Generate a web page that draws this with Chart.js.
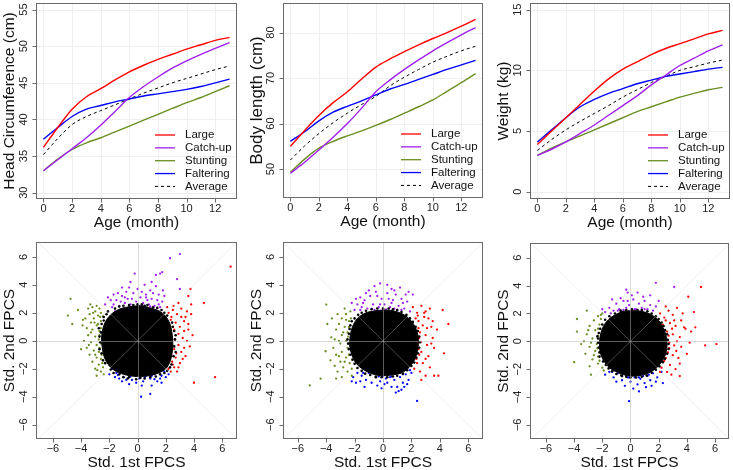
<!DOCTYPE html>
<html>
<head>
<meta charset="utf-8">
<script src="https://cdn.jsdelivr.net/npm/chart.js@4.4.1/dist/chart.umd.min.js"></script>
<style>
  body { margin: 0; background: #fff; }
  #wrap { position: relative; width: 733px; height: 470px; }
  #wrap canvas { position: absolute; left: 0; top: 0; }
</style>
</head>
<body>
<div id="wrap">
  <canvas id="head" width="733" height="470"></canvas>
  <canvas id="length" width="733" height="470"></canvas>
  <canvas id="weight" width="733" height="470"></canvas>
  <canvas id="headPcs" width="733" height="470"></canvas>
  <canvas id="lengthPcs" width="733" height="470"></canvas>
  <canvas id="weightPcs" width="733" height="470"></canvas>
</div>
<script>
// --- growth curves (age in months) ---
const ageMonths = [0, 1, 2, 3, 4, 5, 6, 7, 8, 9, 10, 11, 12, 13];
const groupNames = ['Large', 'Catch-up', 'Stunting', 'Faltering', 'Average'];
const groupColors = ['#FF0000', '#A020F0', '#6B8E23', '#0000FF', '#000000'];

const headLarge     = [36.2, 38.9, 41.4, 43.1, 44.2, 45.4, 46.5, 47.4, 48.2, 48.9, 49.6, 50.2, 50.8, 51.2];
const headCatchup   = [33.0, 34.5, 36.0, 37.5, 39.2, 41.1, 43.0, 44.5, 45.8, 47.0, 48.0, 48.9, 49.7, 50.5];
const headStunting  = [33.0, 34.6, 35.9, 36.8, 37.5, 38.3, 39.1, 39.9, 40.7, 41.5, 42.3, 43.0, 43.8, 44.6];
const headFaltering = [37.3, 38.9, 40.4, 41.4, 41.9, 42.4, 42.8, 43.2, 43.5, 43.8, 44.1, 44.5, 45.0, 45.5];
const headAverage   = [35.2, 37.4, 39.3, 40.4, 41.2, 42.0, 42.8, 43.6, 44.3, 45.0, 45.6, 46.2, 46.8, 47.3];

const lengthLarge     = [55.0, 58.5, 61.8, 64.6, 67.0, 69.8, 72.4, 74.2, 75.8, 77.3, 78.7, 80.0, 81.4, 82.9];
const lengthCatchup   = [49.1, 51.5, 54.2, 57.0, 60.0, 63.4, 67.0, 69.6, 71.9, 74.0, 76.0, 77.8, 79.5, 81.1];
const lengthStunting  = [49.3, 52.2, 54.6, 56.1, 57.3, 58.4, 59.6, 60.9, 62.3, 63.7, 65.2, 67.1, 69.0, 71.0];
const lengthFaltering = [56.1, 58.2, 60.6, 62.5, 63.8, 65.0, 66.3, 67.6, 68.6, 69.7, 70.8, 71.9, 72.9, 73.9];
const lengthAverage   = [52.0, 55.1, 57.8, 60.2, 62.3, 64.2, 66.0, 68.3, 70.2, 71.9, 73.5, 74.8, 76.0, 77.0];

const weightLarge     = [3.9, 5.0, 6.1, 7.2, 8.3, 9.3, 10.1, 10.7, 11.3, 11.8, 12.2, 12.6, 13.0, 13.3];
const weightCatchup   = [3.0, 3.5, 4.1, 4.8, 5.5, 6.3, 7.1, 7.9, 8.8, 9.6, 10.4, 11.0, 11.6, 12.1];
const weightStunting  = [3.0, 3.6, 4.1, 4.6, 5.1, 5.6, 6.1, 6.6, 7.0, 7.4, 7.8, 8.1, 8.4, 8.6];
const weightFaltering = [4.1, 5.1, 6.1, 7.0, 7.6, 8.1, 8.5, 8.9, 9.2, 9.5, 9.7, 9.9, 10.1, 10.25];
const weightAverage   = [3.4, 4.3, 5.1, 5.8, 6.45, 7.1, 7.8, 8.4, 9.0, 9.5, 10.0, 10.3, 10.6, 10.85];

const ageTicks = [0, 2, 4, 6, 8, 10, 12];
const headTicks = [30, 35, 40, 45, 50, 55];
const lengthTicks = [50, 60, 70, 80];
const weightTicks = [0, 5, 10, 15];
const fpcsTicks = [-6, -4, -2, 0, 2, 4, 6];

// --- standardized FPC scores (1st, 2nd) ---
const headBlob = [[-0.5,2.45],[0.2,2.5],[0.9,2.35],[1.5,2.15],[1.95,1.8],[2.3,1.2],[2.45,0.5],[2.5,-0.2],[2.45,-0.9],[2.3,-1.5],[2.0,-2.0],[1.5,-2.3],[0.8,-2.5],[0.0,-2.55],[-0.8,-2.45],[-1.5,-2.2],[-2.0,-1.8],[-2.35,-1.2],[-2.5,-0.5],[-2.55,0.2],[-2.45,0.9],[-2.2,1.5],[-1.8,1.95],[-1.2,2.3]];
const headEdge = [[-2.6,0.6],[-2.65,-0.1],[-2.55,1.2],[-2.4,1.7],[-2.1,2.1],[-1.6,2.3],[-1.0,2.5],[-0.3,2.55],[0.5,2.5],[1.1,2.4],[1.7,2.2],[2.1,1.8],[2.45,1.3],[2.6,0.7],[2.6,-0.4],[2.55,-1.1],[2.4,-1.7],[2.1,-2.15],[1.6,-2.4],[0.9,-2.6],[0.2,-2.65],[-0.6,-2.6],[-1.3,-2.4],[-1.9,-2.05],[-2.3,-1.6],[-2.55,-0.9],[-2.7,0.3],[2.65,0.1],[0.0,2.6],[-0.7,-2.7],[1.3,-2.55],[-2.2,1.9],[2.3,-1.9],[1.9,2.0],[-1.7,-2.3],[0.7,2.55],[-2.75,0.9],[-2.7,-0.6],[-2.45,-1.4],[2.7,-0.8],[2.7,0.4],[2.5,1.0],[-1.3,2.45],[1.4,2.35],[-0.1,-2.75],[0.5,-2.7],[-1.0,-2.6],[1.9,-2.3],[2.0,1.6],[-2.4,1.45],[0.3,2.6],[-0.6,2.55]];
const headCatchupPcs = [[-1.8,2.4],[-1.5,2.9],[-1.3,2.5],[-1.1,3.2],[-0.9,2.7],[-0.7,3.0],[-0.5,2.6],[-0.3,3.4],[-0.1,2.8],[0.2,3.1],[0.4,2.7],[0.6,3.3],[0.8,2.6],[1.0,3.0],[1.2,2.5],[1.4,2.9],[1.6,2.4],[1.75,2.8],[-1.6,2.1],[-0.8,3.5],[0.0,3.7],[0.9,3.6],[1.5,3.3],[1.3,3.9],[-0.2,4.8],[1.3,4.7],[1.6,4.8],[1.75,4.9],[2.3,5.9],[3.0,6.2],[-1.1,3.8],[-2.1,3.1],[-1.9,2.9],[-0.5,4.2],[0.5,4.0],[2.8,4.4],[3.0,3.7],[-1.4,3.4],[0.1,2.5],[-0.4,3.0],[0.7,2.9],[1.9,3.2],[-2.3,2.6],[-1.0,2.3],[1.1,3.4],[0.3,3.5],[-0.6,3.8],[1.8,3.6],[-1.7,2.6],[-1.2,2.8],[-0.6,2.4],[0.35,2.5],[0.9,2.45],[1.5,2.6],[-0.9,3.1],[0.6,3.1],[-1.7,3.3],[1.0,4.2]];
const headLargePcs = [[2.2,2.0],[2.5,2.2],[2.8,1.9],[3.1,2.3],[3.4,1.7],[2.35,1.5],[2.7,1.3],[3.0,1.0],[3.3,1.4],[3.6,0.8],[2.6,0.8],[2.9,0.5],[3.2,0.2],[3.5,0.0],[2.65,0.1],[2.9,-0.3],[3.7,-0.4],[2.6,-0.6],[3.1,-0.8],[3.4,-1.1],[2.7,-1.2],[2.45,-1.5],[3.0,-1.6],[2.6,-1.9],[2.2,-2.0],[2.35,-2.2],[3.8,2.6],[3.6,3.2],[3.75,3.7],[2.1,2.4],[3.9,0.4],[2.8,-2.2],[4.7,2.7],[6.6,5.3],[5.5,-2.6],[4.0,-3.0],[3.8,1.9],[3.3,-0.5],[2.9,2.7],[3.5,2.1],[2.5,1.0],[3.2,-1.3],[2.75,-0.9],[3.6,1.2],[2.4,1.7],[2.3,0.3],[2.45,-0.3],[2.5,-1.7],[2.9,-1.9],[3.3,0.7],[3.1,1.7],[2.55,2.5]];
const headStuntingPcs = [[-4.75,3.0],[-4.94,1.8],[-4.63,1.2],[-4.23,2.2],[-3.87,1.5],[-3.5,2.3],[-3.2,2.4],[-2.9,2.5],[-2.7,2.3],[-3.0,2.1],[-3.4,1.9],[-2.6,2.0],[-3.7,1.6],[-3.1,1.6],[-2.8,1.8],[-3.3,1.3],[-2.6,1.4],[-2.9,1.1],[-3.6,0.9],[-3.2,0.8],[-2.7,0.7],[-3.5,0.4],[-3.0,0.3],[-2.75,0.1],[-3.3,-0.1],[-2.9,-0.3],[-3.6,-0.5],[-3.1,-0.7],[-2.75,-0.8],[-3.4,-1.0],[-2.9,-1.2],[-2.6,-1.3],[-3.2,-1.5],[-2.75,-1.7],[-2.45,-1.9],[-3.0,-2.0],[-2.6,-2.2],[-2.9,-2.5],[-2.4,-2.4],[-3.8,0.0],[-4.0,-0.6],[-3.9,1.1],[-2.7,-0.5],[-2.6,0.9],[-2.45,1.75],[-3.35,2.6],[-3.3,0.6],[-3.0,-1.0],[-2.8,1.2],[-3.15,2.0],[-2.85,-2.1],[-3.45,-0.3],[-2.65,1.7],[-2.6,-0.2],[-2.55,-1.0],[-3.05,1.3],[-2.7,0.4],[-2.5,-1.6]];
const headFalteringPcs = [[-1.8,-2.0],[-1.5,-2.3],[-1.2,-2.1],[-1.0,-2.6],[-0.7,-2.4],[-0.4,-2.8],[-0.2,-2.5],[0.1,-2.7],[0.4,-2.9],[0.6,-2.5],[0.9,-2.7],[1.2,-2.4],[1.4,-2.9],[1.7,-2.5],[1.9,-2.2],[2.0,-2.6],[-1.3,-2.7],[-0.6,-3.1],[0.3,-3.2],[1.0,-3.2],[1.7,-3.0],[0.25,-4.0],[0.9,-3.8],[-1.6,-2.6],[-2.0,-2.4],[0.0,-2.3],[0.7,-2.2],[-0.9,-2.2],[1.5,-2.2],[-1.1,-2.9],[1.2,-2.75],[-0.1,-3.0],[2.2,-2.4],[0.5,-2.6],[-1.4,-2.45],[-0.5,-2.55],[0.3,-2.45],[1.0,-2.5],[1.6,-2.7],[-0.8,-2.8]];

const lengthBlob = [[-0.5,2.15],[0.2,2.2],[0.9,2.1],[1.5,1.85],[2.0,1.4],[2.35,0.8],[2.5,0.1],[2.45,-0.6],[2.25,-1.3],[1.85,-1.9],[1.3,-2.3],[0.6,-2.45],[-0.1,-2.5],[-0.8,-2.35],[-1.4,-2.05],[-1.9,-1.6],[-2.2,-1.0],[-2.35,-0.3],[-2.3,0.4],[-2.15,1.0],[-1.8,1.6],[-1.2,2.0]];
const lengthEdge = [[-2.4,0.5],[-2.45,-0.2],[-2.3,1.1],[-2.0,1.6],[-1.5,2.0],[-0.8,2.25],[0.0,2.3],[0.7,2.25],[1.3,2.05],[1.9,1.6],[2.3,1.0],[2.55,0.3],[2.55,-0.5],[2.35,-1.2],[2.0,-1.8],[1.4,-2.35],[0.7,-2.55],[-0.1,-2.6],[-0.9,-2.45],[-1.5,-2.15],[-2.0,-1.65],[-2.3,-1.0],[-2.4,-0.6],[0.4,2.3],[-1.2,2.15],[2.45,-0.9],[1.0,-2.5],[-0.5,-2.55],[-2.2,1.4],[2.1,1.35],[-2.5,0.1],[-2.35,0.85],[-2.15,-1.35],[-1.75,1.85],[-0.4,2.3],[1.0,2.2],[1.65,1.85],[2.45,0.7],[2.6,-0.1],[2.2,-1.55],[1.7,-2.1],[0.3,-2.6],[-0.5,-2.6],[-1.25,-2.35],[-1.8,-1.95]];
const lengthCatchupPcs = [[-2.0,2.2],[-1.8,2.6],[-1.5,2.4],[-1.3,2.9],[-1.1,2.3],[-0.9,3.2],[-0.7,2.6],[-0.5,3.5],[-0.3,2.4],[-0.1,3.0],[0.1,2.6],[0.3,3.4],[0.5,2.4],[0.7,2.9],[0.9,3.3],[1.1,2.5],[1.3,3.0],[1.5,2.3],[1.7,2.8],[1.9,2.1],[-1.0,3.6],[0.6,3.7],[1.6,3.3],[2.1,3.3],[-0.2,4.1],[0.3,4.0],[1.2,3.8],[-0.6,3.9],[-1.6,3.1],[0.0,2.3],[1.0,2.2],[-2.2,2.7],[-1.2,3.4],[0.4,3.0],[1.4,2.7],[-0.4,3.2],[0.8,3.6],[-1.9,3.0],[1.8,3.5],[-0.8,2.3],[-1.6,2.2],[-0.6,2.2],[0.2,2.25],[0.8,2.3],[1.3,2.2],[-1.4,2.7],[0.6,2.7],[-0.2,2.6]];
const lengthLargePcs = [[2.1,2.4],[2.4,2.0],[2.7,2.5],[3.0,2.1],[3.2,1.6],[2.5,1.4],[2.8,1.1],[3.4,1.0],[2.6,0.6],[3.0,0.4],[3.5,0.2],[2.65,-0.1],[3.1,-0.3],[3.6,-0.5],[2.7,-0.8],[3.2,-1.1],[2.35,-1.3],[2.8,-1.6],[3.3,-1.9],[2.2,-2.0],[2.6,-2.2],[3.0,-2.5],[3.6,-2.5],[4.2,2.2],[4.6,1.2],[4.3,-0.9],[3.9,-2.5],[3.8,0.8],[2.7,-2.8],[3.3,2.3],[2.9,1.7],[3.5,1.4],[2.55,-1.0],[3.0,-1.3],[3.4,-0.2],[2.45,1.8],[2.3,1.6],[2.5,0.9],[2.55,0.2],[2.5,-0.6],[2.4,-1.6],[2.9,2.0],[3.1,0.9]];
const lengthStuntingPcs = [[-3.99,2.59],[-3.92,1.2],[-4.04,-0.75],[-4.39,-2.71],[-5.16,-3.19],[-3.64,0.25],[-2.3,2.1],[-2.6,1.9],[-2.9,1.6],[-2.4,1.4],[-3.1,1.2],[-2.7,1.0],[-3.3,0.8],[-2.5,0.6],[-2.9,0.4],[-3.4,0.1],[-2.6,0.0],[-3.0,-0.2],[-3.5,-0.5],[-2.5,-0.5],[-2.9,-0.8],[-3.3,-1.0],[-2.6,-1.2],[-3.0,-1.5],[-2.35,-1.6],[-2.8,-1.9],[-3.2,-2.2],[-2.5,-2.2],[-2.9,-2.6],[-3.3,-2.7],[-2.2,-2.5],[-3.7,-1.4],[-3.6,1.6],[-2.25,1.6],[-2.7,2.3],[-3.2,1.9],[-2.45,0.3],[-3.1,-1.1],[-2.7,-1.5],[-3.4,-1.8],[-2.8,0.6],[-3.1,0.0],[-2.4,1.0],[-2.45,-0.2],[-2.4,-1.0],[-2.6,1.5],[-2.2,-2.0]];
const lengthFalteringPcs = [[-2.1,-2.6],[-1.8,-2.3],[-1.9,-3.0],[-1.5,-2.5],[-1.2,-2.8],[-1.0,-2.3],[-0.8,-3.0],[-0.5,-2.6],[-0.2,-2.9],[0.0,-2.5],[0.3,-3.0],[0.5,-2.6],[0.8,-2.8],[1.0,-3.3],[1.2,-2.6],[1.4,-3.0],[1.6,-2.4],[1.8,-2.8],[2.0,-2.3],[1.1,-3.6],[1.3,-3.5],[0.9,-3.7],[-0.1,-3.4],[-1.3,-3.3],[2.4,-4.3],[-2.2,-2.9],[1.5,-3.3],[0.6,-3.3],[-0.6,-2.2],[1.9,-2.1],[-0.4,-3.2],[0.2,-2.7],[-1.6,-2.9],[1.7,-3.1],[-1.4,-2.3],[-0.3,-2.55],[0.6,-2.55],[1.4,-2.4],[0.1,-3.1]];

const weightBlob = [[-0.6,2.15],[0.1,2.2],[0.8,2.15],[1.4,1.95],[1.9,1.6],[2.25,1.1],[2.5,0.5],[2.6,-0.2],[2.5,-0.9],[2.2,-1.5],[1.75,-2.0],[1.1,-2.35],[0.4,-2.5],[-0.3,-2.45],[-0.9,-2.25],[-1.5,-1.9],[-1.9,-1.4],[-2.15,-0.8],[-2.2,-0.1],[-2.1,0.6],[-1.85,1.2],[-1.4,1.7]];
const weightEdge = [[-2.25,0.6],[-2.3,-0.1],[-2.2,-0.8],[-2.0,1.2],[-1.5,1.8],[-0.7,2.2],[0.1,2.3],[0.8,2.25],[1.5,2.0],[2.0,1.6],[2.35,1.1],[2.6,0.5],[2.7,-0.2],[2.6,-0.9],[2.3,-1.5],[1.8,-2.05],[1.15,-2.45],[0.4,-2.6],[-0.3,-2.55],[-1.0,-2.35],[-1.55,-1.95],[-1.95,-1.45],[-2.2,-1.1],[0.5,2.25],[-1.1,2.0],[2.65,0.1],[1.5,-2.25],[-0.6,-2.5],[2.2,1.35],[-2.3,0.2],[-2.35,0.35],[-2.15,0.9],[-2.25,-0.45],[-1.8,1.55],[-0.3,2.25],[1.2,2.15],[1.8,1.8],[2.45,0.8],[2.7,-0.55],[2.45,-1.25],[2.05,-1.8],[0.8,-2.55],[0.0,-2.6],[-0.65,-2.45],[-1.3,-2.15],[-1.75,-1.7]];
const weightCatchupPcs = [[-1.8,2.1],[-1.5,2.4],[-1.2,2.2],[-1.0,2.7],[-0.8,2.3],[-0.5,2.9],[-0.3,2.4],[-0.1,2.6],[0.2,3.0],[0.4,2.3],[0.6,2.7],[0.8,2.4],[1.0,2.9],[1.2,2.3],[1.4,2.6],[1.6,2.2],[1.8,2.5],[-0.3,3.7],[-0.2,3.5],[1.8,4.2],[3.1,3.9],[1.4,3.3],[0.9,3.2],[-1.3,3.0],[0.1,3.3],[-0.7,3.1],[2.0,2.9],[-2.0,2.3],[0.5,3.5],[-0.9,2.2],[-1.4,2.0],[-0.5,2.25],[0.3,2.3],[1.0,2.3],[-0.2,2.9],[0.7,2.1]];
const weightLargePcs = [[2.1,2.0],[2.4,1.7],[2.7,2.2],[3.0,1.9],[3.3,2.4],[2.3,1.2],[2.8,1.3],[3.2,1.1],[3.6,1.5],[2.6,0.7],[3.0,0.5],[3.5,0.3],[3.9,0.9],[2.75,-0.1],[3.1,-0.3],[3.6,-0.4],[2.65,-0.8],[3.0,-1.0],[3.4,-1.2],[2.4,-1.4],[2.8,-1.7],[3.2,-2.0],[2.2,-1.9],[2.6,-2.2],[3.5,-2.5],[4.5,2.1],[4.1,3.2],[5.0,3.9],[6.1,-0.2],[5.3,-0.3],[4.0,-0.9],[4.3,0.7],[3.8,1.0],[3.5,-1.6],[2.5,2.5],[3.3,0.0],[2.9,-2.4],[4.6,1.0],[3.7,2.0],[2.95,0.9],[3.25,-0.7],[4.2,-0.1],[2.5,1.5],[2.7,0.4],[2.75,-0.5],[2.5,-1.2],[2.1,-2.2],[3.1,1.5]];
const weightStuntingPcs = [[-2.0,2.0],[-2.3,1.8],[-2.6,1.5],[-2.2,1.2],[-2.9,1.1],[-2.5,0.8],[-3.1,0.5],[-2.3,0.4],[-2.7,0.2],[-3.3,0.0],[-2.4,-0.2],[-2.9,-0.4],[-2.5,-0.7],[-3.2,-0.9],[-2.3,-1.1],[-2.7,-1.3],[-2.3,-1.6],[-2.9,-1.8],[-2.0,-1.9],[-3.8,1.6],[-3.8,0.7],[-4.0,-1.5],[-3.1,2.2],[-2.8,-2.4],[-3.5,-0.2],[-2.1,1.6],[-1.9,-2.1],[-2.6,-1.0],[-3.0,0.8],[-2.8,-0.1],[-2.3,0.9],[-2.35,-0.5],[-2.2,-1.4],[-2.1,1.9]];
const weightFalteringPcs = [[-1.8,-2.4],[-1.5,-2.2],[-1.2,-2.6],[-0.9,-2.3],[-0.6,-2.8],[-0.3,-2.5],[0.0,-2.9],[0.3,-2.6],[0.5,-3.1],[0.7,-2.7],[1.0,-3.0],[1.2,-2.5],[1.4,-2.8],[1.6,-2.3],[1.9,-2.6],[2.2,-2.2],[2.3,-3.0],[0.6,-3.6],[1.1,-3.3],[-0.1,-4.3],[-0.4,-3.2],[0.2,-3.4],[1.8,-2.9],[-1.0,-2.9],[0.9,-2.5],[-0.1,-2.6],[1.5,-3.2],[-1.3,-2.2],[-0.2,-2.6],[0.6,-2.6],[1.3,-2.4]];

const FONT = '"Liberation Sans", Arial, Helvetica, sans-serif';
const fmt = v => String(v).replace('-', '\u2212');

function rFrame(o) {
  return {
    id: 'rFrame',
    beforeDatasetsDraw(chart) {
      if (!o.grid) return;
      const { ctx, chartArea: a, scales: { x, y } } = chart;
      ctx.save();
      ctx.strokeStyle = '#efefef';
      ctx.lineWidth = 1;
      ctx.beginPath();
      o.xTicks.forEach(v => { const p = Math.round(x.getPixelForValue(v)) + 0.5; ctx.moveTo(p, a.top); ctx.lineTo(p, a.bottom); });
      o.yTicks.forEach(v => { const p = Math.round(y.getPixelForValue(v)) + 0.5; ctx.moveTo(a.left, p); ctx.lineTo(a.right, p); });
      ctx.stroke();
      ctx.restore();
    },
    afterDatasetsDraw(chart) {
      const { ctx, chartArea: a, scales: { x, y } } = chart;
      ctx.save();
      if (o.ref) {
        ctx.save();
        ctx.beginPath();
        ctx.rect(a.left, a.top, a.right - a.left, a.bottom - a.top);
        ctx.clip();
        ctx.lineWidth = 1;
        ctx.strokeStyle = 'rgba(214,214,214,0.33)';
        ctx.beginPath();
        ctx.moveTo(x.getPixelForValue(-9), y.getPixelForValue(-9));
        ctx.lineTo(x.getPixelForValue(9), y.getPixelForValue(9));
        ctx.moveTo(x.getPixelForValue(-9), y.getPixelForValue(9));
        ctx.lineTo(x.getPixelForValue(9), y.getPixelForValue(-9));
        ctx.stroke();
        ctx.strokeStyle = 'rgba(181,181,181,0.5)';
        ctx.beginPath();
        const px = Math.round(x.getPixelForValue(0)) + 0.5;
        const py = Math.round(y.getPixelForValue(0)) + 0.5;
        ctx.moveTo(px, a.top); ctx.lineTo(px, a.bottom);
        ctx.moveTo(a.left, py); ctx.lineTo(a.right, py);
        ctx.stroke();
        ctx.restore();
      }
      // box
      ctx.strokeStyle = '#6a6a6a';
      ctx.lineWidth = 1;
      const L = Math.round(a.left) + 0.5, R = Math.round(a.right) - 0.5;
      const T = Math.round(a.top) + 0.5, B = Math.round(a.bottom) - 0.5;
      ctx.strokeRect(L, T, R - L, B - T);
      // ticks
      ctx.beginPath();
      o.xTicks.forEach(v => { const p = Math.round(x.getPixelForValue(v)) + 0.5; ctx.moveTo(p, B); ctx.lineTo(p, B + 4); });
      o.yTicks.forEach(v => { const p = Math.round(y.getPixelForValue(v)) + 0.5; ctx.moveTo(L, p); ctx.lineTo(L - 4, p); });
      ctx.stroke();
      // tick labels
      ctx.fillStyle = '#222';
      ctx.font = '11px ' + FONT;
      ctx.textAlign = 'center';
      ctx.textBaseline = 'middle';
      o.xTicks.forEach(v => ctx.fillText(fmt(v), x.getPixelForValue(v), a.bottom + 10));
      o.yTicks.forEach(v => {
        ctx.save();
        ctx.translate(a.left - 12, y.getPixelForValue(v));
        ctx.rotate(-Math.PI / 2);
        ctx.fillText(fmt(v), 0, 0);
        ctx.restore();
      });
      // titles
      ctx.fillStyle = '#111';
      ctx.font = o.xTitleSize + 'px ' + FONT;
      ctx.fillText(o.xTitle, (a.left + a.right) / 2, a.bottom + 23.5);
      ctx.save();
      ctx.font = o.yTitleSize + 'px ' + FONT;
      ctx.translate(a.left - 26, (a.top + a.bottom) / 2);
      ctx.rotate(-Math.PI / 2);
      ctx.fillText(o.yTitle, 0, 0);
      ctx.restore();
      // legend
      if (o.legend) {
        ctx.font = '11.5px ' + FONT;
        ctx.textAlign = 'left';
        groupNames.forEach((name, i) => {
          const ry = a.bottom - 64 + i * 12.85;
          ctx.strokeStyle = groupColors[i];
          ctx.lineWidth = i === 4 ? 1 : 1.3;
          ctx.setLineDash(i === 4 ? [3, 3] : []);
          ctx.beginPath();
          ctx.moveTo(a.right - 82, ry);
          ctx.lineTo(a.right - 62, ry);
          ctx.stroke();
          ctx.setLineDash([]);
          ctx.fillStyle = '#111';
          ctx.fillText(name, a.right - 52, ry);
        });
      }
      ctx.restore();
    }
  };
}

function pad(box) {
  return { left: box[0], top: box[1], right: 733 - box[2], bottom: 470 - box[3] };
}

function growthChart(id, box, yMin, yMax, yTicks, yTitle, yTitleSize, series) {
  new Chart(document.getElementById(id), {
    type: 'line',
    data: {
      datasets: series.map((vals, i) => ({
        label: groupNames[i],
        data: ageMonths.map((m, k) => ({ x: m, y: vals[k] })),
        borderColor: groupColors[i],
        borderWidth: i === 4 ? 1 : 1.4,
        borderDash: i === 4 ? [3, 3] : [],
        pointRadius: 0,
        cubicInterpolationMode: 'monotone',
        fill: false
      }))
    },
    options: {
      responsive: false,
      animation: false,
      events: [],
      layout: { padding: pad(box) },
      scales: {
        x: { type: 'linear', min: -0.52, max: 13.52, display: false },
        y: { type: 'linear', min: yMin, max: yMax, display: false }
      },
      plugins: { legend: { display: false }, tooltip: { enabled: false } }
    },
    plugins: [rFrame({ grid: true, legend: true, xTicks: ageTicks, yTicks, xTitle: 'Age (month)', xTitleSize: 15.5, yTitle, yTitleSize })]
  });
}

const toXY = arr => arr.map(p => ({ x: p[0], y: p[1] }));

function pcsChart(id, box, xMin, xMax, edge, blob, catchup, large, stunting, faltering) {
  const dot = (data, color, r) => ({ data: toXY(data), backgroundColor: color, borderWidth: 0, pointRadius: r });
  new Chart(document.getElementById(id), {
    type: 'scatter',
    data: {
      datasets: [
        dot(edge, '#000', 1.3),
        { data: toXY(blob.concat([blob[0]])), showLine: true, fill: 'shape', backgroundColor: '#000', borderColor: '#000', borderWidth: 1, pointRadius: 0, tension: 0.3 },
        dot(catchup, groupColors[1], 1.15),
        dot(large, groupColors[0], 1.15),
        dot(stunting, groupColors[2], 1.15),
        dot(faltering, groupColors[3], 1.15)
      ]
    },
    options: {
      responsive: false,
      animation: false,
      events: [],
      layout: { padding: pad(box) },
      scales: {
        x: { type: 'linear', min: xMin, max: xMax, display: false },
        y: { type: 'linear', min: -7.02, max: 7.06, display: false }
      },
      plugins: { legend: { display: false }, tooltip: { enabled: false } }
    },
    plugins: [rFrame({ ref: true, xTicks: fpcsTicks, yTicks: fpcsTicks, xTitle: 'Std. 1st FPCS', xTitleSize: 15.5, yTitle: 'Std. 2nd FPCS', yTitleSize: 15.5 })]
  });
}

growthChart('head', [36, 3, 237, 199], 29.14, 55.9, headTicks, 'Head Circumference (cm)', 15.5,
  [headLarge, headCatchup, headStunting, headFaltering, headAverage]);
growthChart('length', [283, 3, 483, 198], 43.65, 86.5, lengthTicks, 'Body length (cm)', 17,
  [lengthLarge, lengthCatchup, lengthStunting, lengthFaltering, lengthAverage]);
growthChart('weight', [530, 3, 730, 199], -0.6, 15.55, weightTicks, 'Weight (kg)', 15.5,
  [weightLarge, weightCatchup, weightStunting, weightFaltering, weightAverage]);

pcsChart('headPcs', [36, 242, 237, 439], -7.2, 7.05, headEdge, headBlob, headCatchupPcs, headLargePcs, headStuntingPcs, headFalteringPcs);
pcsChart('lengthPcs', [283, 242, 483, 439], -7.04, 7.04, lengthEdge, lengthBlob, lengthCatchupPcs, lengthLargePcs, lengthStuntingPcs, lengthFalteringPcs);
pcsChart('weightPcs', [530, 243, 730, 439], -7.13, 6.99, weightEdge, weightBlob, weightCatchupPcs, weightLargePcs, weightStuntingPcs, weightFalteringPcs);
</script>
</body>
</html>
